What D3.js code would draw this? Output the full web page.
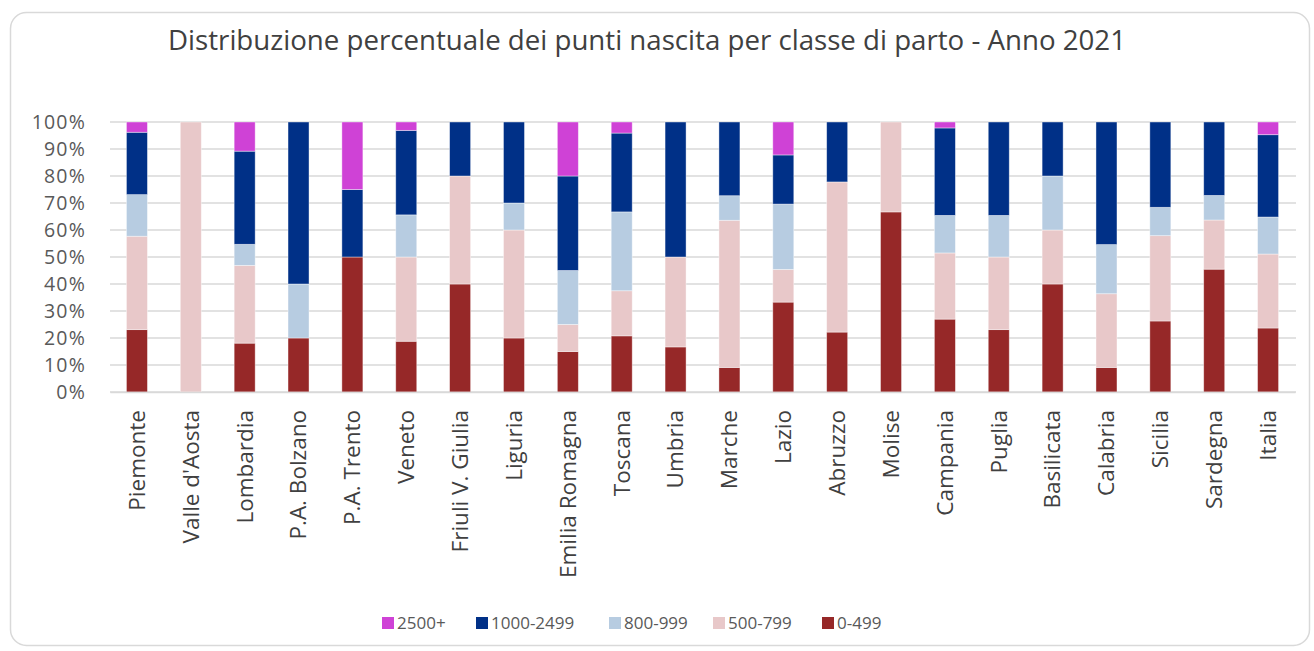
<!DOCTYPE html>
<html><head><meta charset="utf-8">
<script src="https://cdn.jsdelivr.net/npm/d3@7"></script>
<style>body{margin:0;background:#fff;} text{font-family:"Open Sans",sans-serif;}</style>
</head><body>
<svg id="chart" width="1314" height="651"></svg>
<script>
const categories = ["Piemonte","Valle d'Aosta","Lombardia","P.A. Bolzano","P.A. Trento","Veneto","Friuli V. Giulia","Liguria","Emilia Romagna","Toscana","Umbria","Marche","Lazio","Abruzzo","Molise","Campania","Puglia","Basilicata","Calabria","Sicilia","Sardegna","Italia"];
const seriesNames = ["0-499","500-799","800-999","1000-2499","2500+"];
const s0_499    = [23.1, 0, 18.1, 20, 50, 18.8, 40, 20, 15, 20.8, 16.7, 9.1, 33.3, 22.2, 66.7, 27.0, 23.1, 40, 9.1, 26.3, 45.5, 23.7];
const s500_799  = [34.6, 100, 28.8, 0, 0, 31.2, 40, 40, 10, 16.7, 33.3, 54.5, 12.1, 55.6, 33.3, 24.5, 26.9, 20, 27.3, 31.6, 18.2, 27.4];
const s800_999  = [15.4, 0, 7.8, 20, 0, 15.6, 0, 10, 20, 29.2, 0, 9.1, 24.2, 0, 0, 13.9, 15.4, 20, 18.2, 10.5, 9.1, 13.7];
const s1000_2499= [23.1, 0, 34.5, 60, 25, 31.3, 20, 30, 35, 29.2, 50, 27.3, 18.2, 22.2, 0, 32.4, 34.6, 20, 45.4, 31.6, 27.2, 30.5];
const s2500     = [3.8, 0, 10.8, 0, 25, 3.1, 0, 0, 20, 4.1, 0, 0, 12.2, 0, 0, 2.2, 0, 0, 0, 0, 0, 4.7];
const yTicks = [0,10,20,30,40,50,60,70,80,90,100];
const colors = {"0-499":"#962828","500-799":"#E8C8C9","800-999":"#B7CCE1","1000-2499":"#003087","2500+":"#CF42D6"};
const legendOrder = ["2500+","1000-2499","800-999","500-799","0-499"];

const seriesValues = {"0-499":s0_499,"500-799":s500_799,"800-999":s800_999,"1000-2499":s1000_2499,"2500+":s2500};
const rows = categories.map((c,i)=>{const r={cat:c}; seriesNames.forEach(s=>r[s]=seriesValues[s][i]); return r;});

const svg = d3.select("#chart");
// frame
svg.append("rect").attr("x",10.5).attr("y",12.5).attr("width",1299).attr("height",633).attr("rx",16)
  .attr("fill","#fff").attr("stroke","#D9D9D9").attr("stroke-width",1.5);

svg.append("text").attr("x",647).attr("y",50).attr("text-anchor","middle")
  .attr("font-size",27).attr("fill","#404040")
  .attr("textLength",958).attr("lengthAdjust","spacingAndGlyphs")
  .text("Distribuzione percentuale dei punti nascita per classe di parto - Anno 2021");

const x = d3.scaleBand().domain(categories).range([110,1295]).paddingInner(0.61).paddingOuter(0.305);
const y = d3.scaleLinear().domain([0,100]).range([392,122]);

// gridlines
svg.append("g").selectAll("line").data(yTicks).join("line")
  .attr("x1",110).attr("x2",1296).attr("y1",d=>y(d)).attr("y2",d=>y(d))
  .attr("stroke","#D9D9D9").attr("stroke-width",1.5);

// y axis
const yAxis = svg.append("g").attr("transform","translate(110,0)")
  .call(d3.axisLeft(y).tickValues(yTicks).tickFormat(d=>d+"%").tickSize(0).tickPadding(24));
yAxis.select(".domain").remove();
yAxis.selectAll("text").attr("font-size",19.5).attr("letter-spacing","1.2px").attr("fill","#595959").attr("font-family","Open Sans");

const stacked = d3.stack().keys(seriesNames)(rows);
svg.append("g").selectAll("g").data(stacked).join("g").attr("fill",d=>colors[d.key])
  .selectAll("rect").data(d=>d).join("rect")
  .attr("x",d=>x(d.data.cat)).attr("width",x.bandwidth())
  .attr("y",d=>y(d[1])).attr("height",d=>Math.max(0,y(d[0])-y(d[1])))
  .attr("stroke","#fff").attr("stroke-opacity",0.5).attr("stroke-width",0.8);

// x axis
const xAxis = svg.append("g").attr("transform","translate(0,392)")
  .call(d3.axisBottom(x).tickSize(0).tickPadding(0));
xAxis.select(".domain").attr("stroke","#D9D9D9").attr("stroke-width",1.5);
xAxis.selectAll("text").attr("font-size",22.5).attr("fill","#404040").attr("font-family","Open Sans")
  .attr("transform","rotate(-90)").attr("text-anchor","end").attr("dy","0.35em").attr("x",-18).attr("y",0);

// legend
const legX = {"2500+":382,"1000-2499":476,"800-999":609,"500-799":713,"0-499":822};
const leg = svg.append("g").selectAll("g").data(legendOrder).join("g")
  .attr("transform",d=>`translate(${legX[d]},617)`);
leg.append("rect").attr("width",12).attr("height",12).attr("fill",d=>colors[d]);
leg.append("text").attr("x",15).attr("y",6).attr("dy","0.36em").attr("font-size",17).attr("fill","#595959").text(d=>d);
</script>
</body></html>
